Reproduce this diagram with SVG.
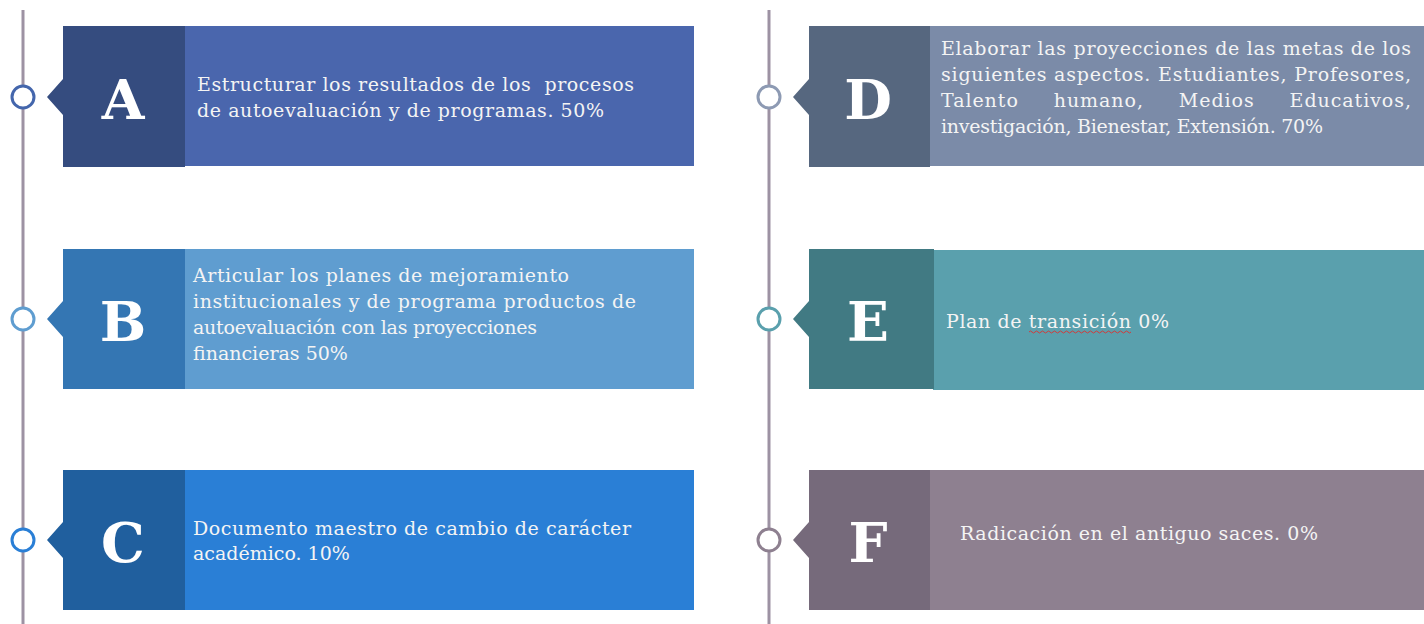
<svg xmlns="http://www.w3.org/2000/svg" width="1424" height="624" viewBox="0 0 1424 624">
<style>
.letter{font-family:"DejaVu Serif",serif;font-weight:bold;font-size:55px;fill:#ffffff;text-anchor:middle}
.body{font-family:"DejaVu Serif","Liberation Serif",serif;font-size:19px;fill:#f4f4f4;white-space:pre}
.rail{stroke:#9d92a3;stroke-width:3}
.dot{fill:#ffffff;stroke-width:3}
</style>
<rect width="1424" height="624" fill="#ffffff"/>
<g id="connectors">
<line class="rail" x1="23" y1="10" x2="23" y2="624"/>
<line class="rail" x1="769" y1="10" x2="769" y2="624"/>
</g>
<g id="node-A">
<rect x="184" y="26" width="510" height="140" fill="#4a66ad"/>
<path d="M63 26H185V167H63V115L47 97L63 79Z" fill="#354c7f"/>
<circle class="dot" cx="23" cy="97" r="11" stroke="#4466ac"/>
<text class="letter" x="123" y="119">A</text>
<text class="body" x="197" y="91" textLength="437" lengthAdjust="spacing">Estructurar los resultados de los  procesos</text>
<text class="body" x="197" y="117" textLength="407" lengthAdjust="spacing">de autoevaluación y de programas. 50%</text>
</g>
<g id="node-B">
<rect x="184" y="249" width="510" height="140" fill="#5f9dd0"/>
<path d="M63 249H185V389H63V337L47 319L63 301Z" fill="#3476b3"/>
<circle class="dot" cx="23" cy="319" r="11" stroke="#5f9dd0"/>
<text class="letter" x="123" y="341">B</text>
<text class="body" x="193" y="282" textLength="376" lengthAdjust="spacing">Articular los planes de mejoramiento</text>
<text class="body" x="193" y="308" textLength="443" lengthAdjust="spacing">institucionales y de programa productos de</text>
<text class="body" x="193" y="334" textLength="344" lengthAdjust="spacing">autoevaluación con las proyecciones</text>
<text class="body" x="193" y="360">financieras 50%</text>
</g>
<g id="node-C">
<rect x="184" y="470" width="510" height="140" fill="#2a7fd6"/>
<path d="M63 470H185V610H63V558L47 540L63 522Z" fill="#205f9e"/>
<circle class="dot" cx="23" cy="540" r="11" stroke="#2a7fd6"/>
<text class="letter" x="123" y="562">C</text>
<text class="body" x="193" y="535" textLength="438" lengthAdjust="spacing">Documento maestro de cambio de carácter</text>
<text class="body" x="193" y="560">académico. 10%</text>
</g>
<g id="node-D">
<rect x="929" y="26" width="495" height="140" fill="#7b8ba8"/>
<path d="M809 26H930V167H809V115L793 97L809 79Z" fill="#56677f"/>
<circle class="dot" cx="769" cy="97" r="11" stroke="#8d9ab3"/>
<text class="letter" x="868" y="119">D</text>
<text class="body" x="941" y="55" textLength="470" lengthAdjust="spacing">Elaborar las proyecciones de las metas de los</text>
<text class="body" x="941" y="81" textLength="470" lengthAdjust="spacing">siguientes aspectos. Estudiantes, Profesores,</text>
<text class="body" x="941" y="107" textLength="470" lengthAdjust="spacing">Talento     humano,     Medios     Educativos,</text>
<text class="body" x="941" y="133" textLength="382" lengthAdjust="spacing">investigación, Bienestar, Extensión. 70%</text>
</g>
<g id="node-E">
<rect x="933" y="250" width="491" height="140" fill="#5aa0ad"/>
<path d="M809 249H934V389H809V337L793 319L809 301Z" fill="#417a83"/>
<circle class="dot" cx="769" cy="319" r="11" stroke="#5aa0ad"/>
<text class="letter" x="868" y="341">E</text>
<text class="body" x="946" y="328" textLength="223" lengthAdjust="spacing">Plan de transición 0%</text>
<path d="M1029 332q1.5-2 3 0t3 0t3 0t3 0t3 0t3 0t3 0t3 0t3 0t3 0t3 0t3 0t3 0t3 0t3 0t3 0t3 0t3 0t3 0t3 0t3 0t3 0t3 0t3 0t3 0t3 0t3 0t3 0t3 0t3 0t3 0t3 0t3 0t3 0" fill="none" stroke="#d23b3b" stroke-width="1"/>
</g>
<g id="node-F">
<rect x="929" y="470" width="495" height="140" fill="#8e8090"/>
<path d="M809 470H930V610H809V558L793 540L809 522Z" fill="#766a7b"/>
<circle class="dot" cx="769" cy="540" r="11" stroke="#8e8090"/>
<text class="letter" x="868" y="562">F</text>
<text class="body" x="960" y="540" textLength="358" lengthAdjust="spacing">Radicación en el antiguo saces. 0%</text>
</g>
</svg>
